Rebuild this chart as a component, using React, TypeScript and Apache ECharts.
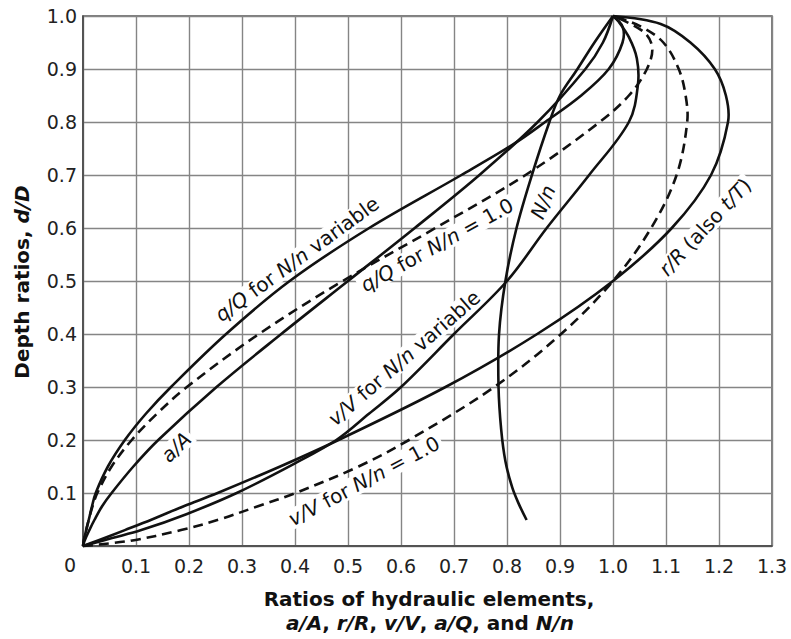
import React, { useEffect, useRef } from "react";
import * as echarts from "echarts";

// Depth ratio (d/D) and hydraulic-element ratio
const aA_depth = [0, 0.01, 0.03, 0.05, 0.075, 0.1, 0.15, 0.2, 0.3, 0.4, 0.5, 0.6, 0.7, 0.8, 0.9, 0.95, 1.0];
const aA_ratio = [0, 0.003, 0.012, 0.022, 0.036, 0.054, 0.095, 0.142, 0.252, 0.374, 0.5, 0.626, 0.748, 0.858, 0.948, 0.981, 1.0];

const rR_depth = [0, 0.01, 0.03, 0.05, 0.075, 0.1, 0.15, 0.2, 0.3, 0.4, 0.5, 0.6, 0.7, 0.8, 0.85, 0.9, 0.95, 0.985, 1.0];
const rR_ratio = [0, 0.027, 0.079, 0.13, 0.19, 0.254, 0.372, 0.482, 0.684, 0.857, 1.0, 1.111, 1.185, 1.217, 1.213, 1.192, 1.146, 1.09, 1.0];

const vV1_depth = [0, 0.01, 0.03, 0.05, 0.075, 0.1, 0.15, 0.2, 0.3, 0.4, 0.5, 0.6, 0.7, 0.8, 0.85, 0.9, 0.95, 0.98, 1.0];
const vV1_ratio = [0, 0.09, 0.185, 0.257, 0.33, 0.401, 0.52, 0.615, 0.776, 0.902, 1.0, 1.072, 1.12, 1.14, 1.137, 1.124, 1.095, 1.053, 1.0];

const qQ1_depth = [0, 0.01, 0.03, 0.05, 0.075, 0.1, 0.15, 0.2, 0.25, 0.3, 0.4, 0.5, 0.6, 0.7, 0.8, 0.85, 0.9, 0.94, 0.97, 1.0];
const qQ1_ratio = [0, 0.0015, 0.006, 0.011, 0.018, 0.027, 0.054, 0.092, 0.14, 0.196, 0.332, 0.49, 0.665, 0.835, 0.975, 1.03, 1.064, 1.074, 1.058, 1.0];

const qQv_depth = [0, 0.01, 0.03, 0.05, 0.075, 0.1, 0.15, 0.2, 0.25, 0.3, 0.4, 0.5, 0.6, 0.7, 0.76, 0.8, 0.85, 0.9, 0.95, 0.98, 1.0];
const qQv_ratio = [0, 0.0015, 0.006, 0.011, 0.017, 0.024, 0.047, 0.079, 0.119, 0.166, 0.27, 0.39, 0.54, 0.714, 0.815, 0.872, 0.94, 0.992, 1.018, 1.018, 1.0];

const vVv_depth = [0, 0.015, 0.03, 0.06, 0.1, 0.156, 0.2, 0.25, 0.3, 0.4, 0.5, 0.6, 0.7, 0.8, 0.87, 0.92, 0.96, 0.99, 1.0];
const vVv_ratio = [0, 0.055, 0.11, 0.195, 0.29, 0.4, 0.478, 0.54, 0.6, 0.7, 0.8, 0.875, 0.955, 1.03, 1.047, 1.045, 1.03, 1.01, 1.0];

const Nn_depth = [0.049, 0.08, 0.11, 0.16, 0.22, 0.3, 0.4, 0.5, 0.6, 0.7, 0.8, 0.85, 0.9, 0.95, 1.0];
const Nn_ratio = [0.837, 0.822, 0.81, 0.797, 0.789, 0.784, 0.785, 0.797, 0.818, 0.847, 0.88, 0.9, 0.933, 0.965, 1.0];

const FONT = "DejaVu Sans";

function pairs(xs: number[], ys: number[]) {
  return xs.map((x, i) => [x, ys[i]]);
}

// One smooth curve per series, drawn through the cartesian axes (api.coord)
function curve(name: string, xs: number[], ys: number[], dashed: boolean) {
  const data = pairs(xs, ys);
  return {
    name,
    type: "custom",
    coordinateSystem: "cartesian2d",
    data,
    silent: true,
    z: 5,
    clip: false,
    encode: { x: 0, y: 1 },
    renderItem: (params: any, api: any) => {
      if (params.dataIndex !== 0) return null;
      const points = data.map((p) => api.coord(p));
      return {
        type: "polyline",
        shape: { points, smooth: 0.35 },
        style: {
          stroke: "#111",
          lineWidth: 2.6,
          fill: null,
          lineDash: dashed ? [10, 6] : null,
          lineCap: "butt",
          lineJoin: "round",
        },
      };
    },
  };
}

const deg = (d: number) => (d * Math.PI) / 180;

function label(text: string, x: number, y: number, rot: number) {
  return {
    type: "text",
    x,
    y,
    rotation: deg(rot),
    z: 3,
    style: {
      text,
      fontFamily: FONT,
      fontSize: 20,
      fill: "#111",
      align: "center",
      verticalAlign: "middle",
      backgroundColor: "#fff",
      padding: [0, 3],
      rich: { i: { fontStyle: "italic", fontFamily: FONT, fontSize: 20, fill: "#111" } },
    },
  };
}

const tickFmt = (v: number) => (Math.abs(v) < 1e-9 ? "" : v.toFixed(1));

const titleRich = { i: { fontStyle: "italic", fontWeight: "bold", fontFamily: FONT, fontSize: 20, fill: "#111" } };

export default function App() {
  const ref = useRef<HTMLDivElement>(null);
  useEffect(() => {
    const chart = echarts.init(ref.current!, null, { renderer: "svg" });
    chart.setOption({
      animation: false,
      backgroundColor: "#fff",
      grid: {
        left: 83,
        top: 16,
        right: 19,
        bottom: 93,
        show: true,
        borderColor: "#555",
        borderWidth: 1.5,
        backgroundColor: "transparent",
      },
      xAxis: {
        type: "value",
        min: 0,
        max: 1.3,
        interval: 0.1,
        axisTick: { show: false },
        axisLine: { show: true, lineStyle: { color: "#444", width: 1.5 } },
        splitLine: { show: true, lineStyle: { color: "#858585", width: 1.4 } },
        axisLabel: { formatter: tickFmt, fontFamily: FONT, fontSize: 19, color: "#222", margin: 10 },
      },
      yAxis: {
        type: "value",
        min: 0,
        max: 1,
        interval: 0.1,
        axisTick: { show: false },
        axisLine: { show: true, lineStyle: { color: "#444", width: 1.5 } },
        splitLine: { show: true, lineStyle: { color: "#858585", width: 1.4 } },
        axisLabel: { formatter: tickFmt, fontFamily: FONT, fontSize: 19, color: "#222", margin: 6 },
      },
      graphic: [
        {
          type: "text",
          x: 70,
          y: 565,
          style: { text: "0", fontFamily: FONT, fontSize: 19, fill: "#222", align: "center", verticalAlign: "middle" },
        },
        {
          type: "text",
          x: 22,
          y: 282,
          rotation: deg(90),
          style: {
            text: "Depth ratios, {i|d/D}",
            fontFamily: FONT,
            fontSize: 20,
            fontWeight: "bold",
            fill: "#111",
            align: "center",
            verticalAlign: "middle",
            rich: titleRich,
          },
        },
        {
          type: "text",
          x: 429,
          y: 599,
          style: {
            text: "Ratios of hydraulic elements,",
            fontFamily: FONT,
            fontSize: 20,
            fontWeight: "bold",
            fill: "#111",
            align: "center",
            verticalAlign: "middle",
          },
        },
        {
          type: "text",
          x: 430,
          y: 623,
          style: {
            text: "{i|a/A}, {i|r/R}, {i|v/V}, {i|a/Q}, and {i|N/n}",
            fontFamily: FONT,
            fontSize: 20,
            fontWeight: "bold",
            fill: "#111",
            align: "center",
            verticalAlign: "middle",
            rich: titleRich,
          },
        },
        label("{i|q/Q} for {i|N/n} variable", 297, 259, 36),
        label("{i|q/Q} for {i|N/n} = 1.0", 437, 245, 29),
        label("{i|N/n}", 543, 202, 68),
        label("{i|r/R} (also {i|t/T})", 705, 227, 47),
        label("{i|v/V} for {i|N/n} variable", 404, 358, 41),
        label("{i|a/A}", 176, 447, 44),
        label("{i|v/V} for {i|N/n} = 1.0", 364, 481, 28),
      ],
      series: [
        curve("a/A", aA_ratio, aA_depth, false),
        curve("r/R", rR_ratio, rR_depth, false),
        curve("v/V for N/n = 1.0", vV1_ratio, vV1_depth, true),
        curve("q/Q for N/n = 1.0", qQ1_ratio, qQ1_depth, true),
        curve("q/Q for N/n variable", qQv_ratio, qQv_depth, false),
        curve("v/V for N/n variable", vVv_ratio, vVv_depth, false),
        curve("N/n", Nn_ratio, Nn_depth, false),
      ],
    });
    return () => chart.dispose();
  }, []);
  return (
    <div
      ref={ref}
      style={{ position: "fixed", left: 0, top: 0, width: 791, height: 639, background: "#fff" }}
    />
  );
}
